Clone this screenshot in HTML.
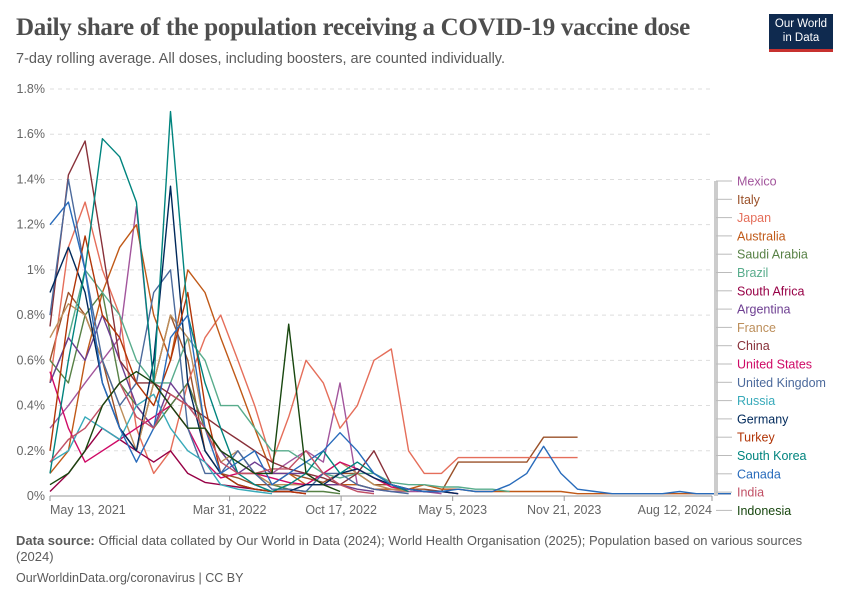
<!DOCTYPE html>
<html><head><meta charset="utf-8"><style>
body{margin:0;background:#fff;font-family:"Liberation Sans",sans-serif;}
#wrap{position:relative;width:850px;height:600px;overflow:hidden}
.t{position:absolute;margin:0}
</style></head><body>
<div id="wrap">
<div class="t" style="left:16px;top:14px;font-family:'Liberation Serif',serif;font-size:25px;color:#4e4e4e;font-weight:bold;letter-spacing:-0.3px">Daily share of the population receiving a COVID-19 vaccine dose</div>
<div class="t" style="left:16px;top:51px;font-size:14.5px;color:#5b5b5b">7-day rolling average. All doses, including boosters, are counted individually.</div>
<div class="t" style="left:769px;top:14px;width:64px;height:38px;background:#0f2a4f;border-bottom:3px solid #c7312f;color:#fff;font-size:11.5px;text-align:center;line-height:14px;padding-top:3px;box-sizing:border-box">Our World<br>in Data</div>
<svg id="chart" width="850" height="600" style="position:absolute;left:0;top:0"></svg>
<div class="t" style="left:16px;top:533px;width:795px;font-size:13px;color:#5b5b5b;line-height:16px"><b>Data source:</b> Official data collated by Our World in Data (2024); World Health Organisation (2025); Population based on various sources (2024)</div>
<div class="t" style="left:16px;top:571px;font-size:12.5px;color:#5b5b5b">OurWorldinData.org/coronavirus | CC BY</div>
</div>
<script>
const months=["2021-05","2021-06","2021-07","2021-08","2021-09","2021-10","2021-11","2021-12","2022-01","2022-02","2022-03","2022-04","2022-05","2022-06","2022-07","2022-08","2022-09","2022-10","2022-11","2022-12","2023-01","2023-02","2023-03","2023-04","2023-05","2023-06","2023-07","2023-08","2023-09","2023-10","2023-11","2023-12","2024-01","2024-02","2024-03","2024-04","2024-05","2024-06","2024-07","2024-08","2024-09"];
const countries=["Mexico","Italy","Japan","Australia","Saudi Arabia","Brazil","South Africa","Argentina","France","China","United States","United Kingdom","Russia","Germany","Turkey","South Korea","Canada","India","Indonesia"];
const colors=["#a2559c","#9a5129","#e56e5a","#c05917","#578145","#58ac8c","#970046","#6d3e91","#bc8e5a","#883039","#cf0a66","#4c6a9c","#38aaba","#00295b","#b13507","#00847e","#286bbb","#c15065","#18470f"];
const mexico=[0.3,0.4,0.5,0.6,0.7,1.28,0.5,0.4,0.5,0.3,0.2,0.15,0.1,0.1,0.15,0.2,0.15,0.5,0.05,0.03,0.02,0.02,0.02,0.01];
const italy=[0.6,0.9,0.8,0.6,0.3,0.2,0.5,0.8,0.6,0.2,0.1,0.08,0.05,0.05,0.1,0.08,0.06,0.1,0.1,0.05,0.05,0.03,0.03,0.02,0.15,0.15,0.15,0.15,0.15,0.26,0.26,0.26];
const japan=[0.5,1.1,1.3,1.0,0.8,0.3,0.1,0.2,0.5,0.7,0.8,0.6,0.4,0.15,0.35,0.6,0.5,0.3,0.4,0.6,0.65,0.2,0.1,0.1,0.17,0.17,0.17,0.17,0.17,0.17,0.17,0.17];
const australia=[0.1,0.2,0.6,0.9,1.1,1.2,0.8,0.6,1.0,0.9,0.7,0.5,0.3,0.1,0.1,0.05,0.05,0.05,0.05,0.03,0.03,0.03,0.05,0.03,0.03,0.02,0.02,0.02,0.02,0.02,0.02,0.01,0.01,0.01,0.01,0.01,0.01,0.01,0.01,0.01,0.01];
const saudi=[0.6,0.5,0.8,0.9,0.5,0.4,0.3,0.4,0.5,0.3,0.2,0.1,0.1,0.05,0.03,0.02,0.02,0.01];
const brazil=[0.5,0.7,1.0,0.9,0.8,0.6,0.5,0.5,0.7,0.6,0.4,0.4,0.3,0.2,0.2,0.15,0.1,0.08,0.1,0.1,0.06,0.05,0.05,0.04,0.04,0.03,0.03,0.02];
const southAfrica=[0.02,0.1,0.2,0.3,0.25,0.2,0.15,0.2,0.1,0.06,0.05,0.04,0.03,0.02,0.02,0.01];
const argentina=[0.5,0.7,0.6,0.8,0.6,0.4,0.3,0.5,0.4,0.3,0.2,0.1,0.15,0.1,0.1,0.1,0.05,0.05,0.03,0.02];
const france=[0.7,0.85,0.8,0.6,0.4,0.2,0.5,0.8,0.7,0.3,0.15,0.2,0.1,0.05,0.05,0.05,0.1,0.15,0.1,0.05,0.03,0.02];
const china=[0.75,1.42,1.57,1.1,0.6,0.5,0.5,0.45,0.4,0.35,0.3,0.25,0.2,0.15,0.12,0.1,0.08,0.05,0.1,0.2,0.05,0.02];
const unitedStates=[0.55,0.3,0.15,0.2,0.25,0.3,0.35,0.4,0.3,0.15,0.08,0.1,0.1,0.08,0.06,0.05,0.1,0.15,0.12,0.08,0.04,0.03,0.02,0.02,0.01];
const unitedKingdom=[0.8,1.4,1.0,0.6,0.4,0.5,0.9,1.0,0.3,0.1,0.1,0.2,0.1,0.03,0.03,0.02,0.1,0.1,0.05,0.03,0.02,0.01];
const russia=[0.15,0.2,0.35,0.3,0.25,0.4,0.45,0.3,0.2,0.15,0.05,0.03,0.02,0.01];
const germany=[0.9,1.1,0.9,0.5,0.3,0.2,0.6,1.37,0.5,0.2,0.1,0.05,0.03,0.02,0.02,0.05,0.05,0.1,0.12,0.08,0.05,0.03,0.02,0.02,0.01];
const turkey=[0.2,0.8,1.15,0.8,0.7,0.5,0.4,0.6,0.9,0.4,0.1,0.05,0.03,0.02,0.02,0.01];
const southKorea=[0.1,0.6,1.0,1.58,1.5,1.3,0.5,1.7,0.8,0.5,0.3,0.1,0.05,0.02,0.05,0.1,0.2,0.1,0.15,0.1,0.05,0.02];
const canada=[1.2,1.3,1.0,0.5,0.3,0.15,0.3,0.7,0.8,0.3,0.1,0.15,0.2,0.05,0.1,0.15,0.2,0.28,0.2,0.1,0.05,0.03,0.02,0.02,0.03,0.02,0.02,0.05,0.1,0.22,0.1,0.03,0.02,0.01,0.01,0.01,0.01,0.02,0.01,0.01,0.01];
const india=[0.15,0.25,0.3,0.4,0.5,0.35,0.3,0.45,0.4,0.3,0.15,0.1,0.1,0.12,0.12,0.2,0.1,0.05,0.02,0.01];
const indonesia=[0.05,0.1,0.2,0.4,0.5,0.55,0.5,0.4,0.3,0.3,0.2,0.15,0.1,0.1,0.76,0.1,0.05,0.02];
const series=[mexico,italy,japan,australia,saudi,brazil,southAfrica,argentina,france,china,unitedStates,unitedKingdom,russia,germany,turkey,southKorea,canada,india,indonesia];
const yTicks=[0,0.2,0.4,0.6,0.8,1,1.2,1.4,1.6,1.8];
const xTickDates=["2021-05-13","2022-03-31","2022-10-17","2023-05-05","2023-11-21","2024-08-12"];
const xTickLabels=["May 13, 2021","Mar 31, 2022","Oct 17, 2022","May 5, 2023","Nov 21, 2023","Aug 12, 2024"];

const NS="http://www.w3.org/2000/svg";
const svg=document.getElementById('chart');
const X0=50,X1=712,Y0=496,Y1=89;
const d0=Date.parse("2021-05-13"),d1=Date.parse("2024-08-12");
function xs(d){return X0+(Date.parse(d)-d0)/(d1-d0)*(X1-X0);}
function ys(v){return Y0-v/1.8*(Y0-Y1);}
function mk(t,a){const e=document.createElementNS(NS,t);for(const k in a)e.setAttribute(k,a[k]);svg.appendChild(e);return e;}
yTicks.forEach(v=>{
  const g=mk('line',{x1:X0,x2:X1,y1:ys(v),y2:ys(v),stroke:'#ddd','stroke-dasharray':v?'4,4':''});
  
  
  const t=mk('text',{x:45,y:ys(v)+4,'text-anchor':'end','font-size':12.5,fill:'#666','font-family':'Liberation Sans'});
  
  
  t.textContent=(Math.round(v*10)/10)+'%';
});
const ax=mk('line',{x1:X0,x2:X1,y1:Y0,y2:Y0,stroke:'#999'});


xTickDates.forEach((d,i)=>{
  const x=xs(d);
  const tk=mk('line',{x1:x,x2:x,y1:Y0,y2:Y0+5,stroke:'#999'});
  
  
  const anchor=i===0?'start':(i===xTickDates.length-1?'end':'middle');
  const t=mk('text',{x:x,y:Y0+18,'text-anchor':anchor,'font-size':12.5,fill:'#666','font-family':'Liberation Sans'});
  
  
  t.textContent=xTickLabels[i];
});
series.forEach((s,i)=>{
  const pts=[];
  s.forEach((v,j)=>{if(v!=null){const dd=j===0?months[j]+"-13":months[j]+"-15";pts.push(xs(dd).toFixed(1)+","+ys(v).toFixed(1));}});
  const p=mk('polyline',{points:pts.join(' '),fill:'none',stroke:colors[i],'stroke-width':1.4,'stroke-linejoin':'round'});
  
  
});
const conn=mk('line',{x1:716,x2:716,y1:181,y2:496,stroke:'#ccc','stroke-width':4});


countries.forEach((c,i)=>{
  const y=181+i*18.3;
  const l=mk('line',{x1:716,x2:732,y1:y,y2:y,stroke:'#bbb'});
  
  
  const t=mk('text',{x:737,y:y+4.5,'font-size':12.5,fill:colors[i],'font-family':'Liberation Sans'});
  
  
  t.textContent=c;
});
</script>
</body></html>
